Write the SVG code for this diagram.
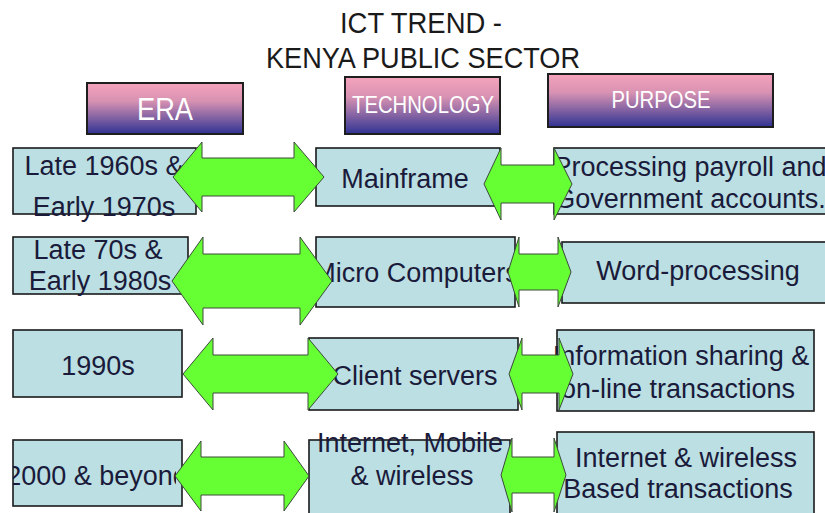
<svg xmlns="http://www.w3.org/2000/svg" width="825" height="513" viewBox="0 0 825 513">
<defs>
<linearGradient id="hdr" x1="0" y1="0" x2="0" y2="1">
<stop offset="0" stop-color="#f5a3bb"/>
<stop offset="0.35" stop-color="#d892b2"/>
<stop offset="1" stop-color="#2f3393"/>
</linearGradient>
<clipPath id="clipEra4"><rect x="13" y="420" width="163" height="100"/></clipPath>
<style>
.hbox{fill:url(#hdr);stroke:#1e1e1e;stroke-width:2}
.htxt{font-family:"Liberation Sans",Arial,sans-serif;fill:#ffffff;text-anchor:middle}
.box{fill:#bbdfe3;stroke:#1a1a1a;stroke-width:1.6}
.txt{font-family:"Liberation Sans",Arial,sans-serif;font-size:27px;fill:#1a1a3a;text-anchor:middle}
.title{font-family:"Liberation Sans",Arial,sans-serif;font-size:29px;fill:#1a1a1a;text-anchor:middle}
.arrow{fill:#66ff33;stroke:#3a4a3a;stroke-width:1;stroke-linejoin:miter}
</style>
</defs>
<rect width="825" height="513" fill="#ffffff"/>

<g id="title">
<text class="title" x="421" y="33" textLength="162" lengthAdjust="spacingAndGlyphs">ICT TREND -</text>
<text class="title" x="423" y="68" textLength="314" lengthAdjust="spacingAndGlyphs">KENYA PUBLIC SECTOR</text>
</g>

<g id="hdr-era">
<rect class="hbox" x="87" y="83" width="156" height="51"/>
<text class="htxt" x="165" y="120" font-size="31" textLength="56" lengthAdjust="spacingAndGlyphs">ERA</text>
</g>
<g id="hdr-technology">
<rect class="hbox" x="345" y="77" width="155" height="57"/>
<text class="htxt" x="423" y="113" font-size="24" textLength="142" lengthAdjust="spacingAndGlyphs">TECHNOLOGY</text>
</g>
<g id="hdr-purpose">
<rect class="hbox" x="548" y="74" width="225" height="53"/>
<text class="htxt" x="661" y="108" font-size="23" textLength="99" lengthAdjust="spacingAndGlyphs">PURPOSE</text>
</g>

<g id="era1">
<rect class="box" x="13" y="148" width="183" height="66"/>
<text class="txt" x="104" y="175">Late 1960s &amp;</text>
<text class="txt" x="104" y="216">Early 1970s</text>
</g>
<g id="tech1">
<rect class="box" x="316" y="148" width="184" height="58"/>
<text class="txt" x="405" y="188">Mainframe</text>
</g>
<g id="purpose1">
<rect class="box" x="554" y="148" width="280" height="66"/>
<text class="txt" x="690" y="176">Processing payroll and</text>
<text class="txt" x="690" y="208">Government accounts.</text>
</g>

<g id="era2">
<rect class="box" x="13" y="237" width="175" height="57"/>
<text class="txt" x="98" y="259">Late 70s &amp;</text>
<text class="txt" x="100" y="290">Early 1980s</text>
</g>
<g id="tech2">
<rect class="box" x="316" y="237" width="199" height="70"/>
<text class="txt" x="416" y="282">Micro Computers</text>
</g>
<g id="purpose2">
<rect class="box" x="562" y="242" width="272" height="61"/>
<text class="txt" x="698" y="280">Word-processing</text>
</g>

<g id="era3">
<rect class="box" x="13" y="330" width="169" height="67"/>
<text class="txt" x="98" y="375">1990s</text>
</g>
<g id="tech3">
<rect class="box" x="309" y="338" width="209" height="72"/>
<text class="txt" x="415" y="385">Client servers</text>
</g>
<g id="purpose3">
<rect class="box" x="557" y="330" width="257" height="81"/>
<text class="txt" x="681" y="365">Information sharing &amp;</text>
<text class="txt" x="678" y="398">on-line transactions</text>
</g>

<g id="era4">
<rect class="box" x="13" y="440" width="169" height="66"/>
<text class="txt" x="97" y="485" clip-path="url(#clipEra4)">2000 &amp; beyond</text>
</g>
<g id="tech4">
<rect class="box" x="309" y="440" width="201" height="74"/>
<text class="txt" x="410" y="452">Internet, Mobile</text>
<text class="txt" x="412" y="485">&amp; wireless</text>
</g>
<g id="purpose4">
<rect class="box" x="557" y="432" width="257" height="82"/>
<text class="txt" x="686" y="467">Internet &amp; wireless</text>
<text class="txt" x="678" y="498">Based transactions</text>
</g>

<g id="connectors">
<path class="arrow" d="M173,177 L202,142 L202,158 L294,158 L294,142 L324,177 L294,212 L294,196 L202,196 L202,212 Z"/>
<path class="arrow" d="M484,184 L501,148 L501,165 L554,165 L554,148 L572,184 L554,220 L554,203 L501,203 L501,220 Z"/>
<path class="arrow" d="M172,281 L203,237 L203,254 L300,254 L300,237 L332,281 L300,325 L300,308 L203,308 L203,325 Z"/>
<path class="arrow" d="M508,272 L519,237 L519,254 L558,254 L558,237 L571,272 L558,307 L558,290 L519,290 L519,307 Z"/>
<path class="arrow" d="M183,374 L213,338 L213,355 L308,355 L308,338 L338,374 L308,410 L308,393 L213,393 L213,410 Z"/>
<path class="arrow" d="M509,374 L522,338 L522,355 L559,355 L559,338 L573,374 L559,410 L559,393 L522,393 L522,410 Z"/>
<path class="arrow" d="M175,476 L201,441 L201,457 L284,457 L284,441 L309,476 L284,511 L284,495 L201,495 L201,511 Z"/>
<path class="arrow" d="M501,475 L512,438 L512,457 L554,457 L554,438 L566,475 L554,512 L554,493 L512,493 L512,512 Z"/>
</g>
</svg>
